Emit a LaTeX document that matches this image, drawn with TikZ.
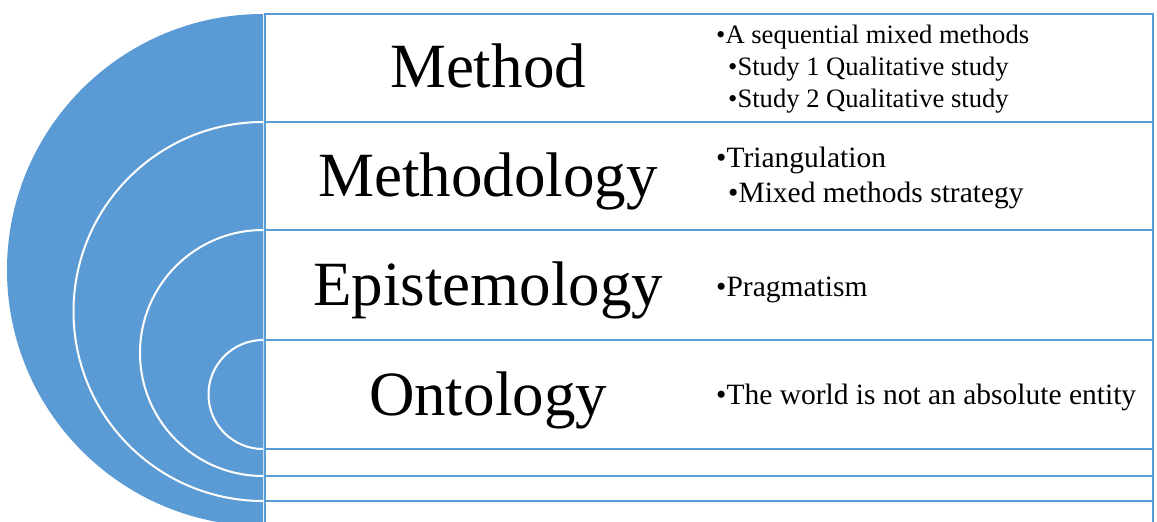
\documentclass[tikz,border=0pt]{standalone}
\usepackage{fontspec}
\setmainfont{Liberation Serif}
\usetikzlibrary{positioning}
\definecolor{targetblue}{HTML}{5B9BD5}

\begin{document}
\begin{tikzpicture}[
    x=1pt, y=-1pt,
    every node/.style={inner sep=0pt, text=black},
    band/.style={draw=targetblue, fill=white, line width=2.4pt},
    disc/.style={fill=targetblue},
    rim/.style={draw=white, line width=2pt},
    head/.style={font=\fontsize{63}{63}\selectfont, anchor=base},
    item/.style={font=\fontsize{29.5}{30}\selectfont, anchor=base west},
    subitem/.style={font=\fontsize{26.6}{30}\selectfont, anchor=base west}
]
    \useasboundingbox (0,0) rectangle (1157,522);
    \clip (0,0) rectangle (1157,522);

    % nested bands, outer to inner
    \draw[band] (265,14) rectangle (1153,526);
    \fill[disc] (263,14) arc[start angle=270, end angle=90, radius=256] -- cycle;

    \draw[band] (265,122) rectangle (1153,501);
    \fill[disc] (263,122) arc[start angle=270, end angle=90, radius=189.5] -- cycle;
    \draw[rim] (263,122) arc[start angle=270, end angle=90, radius=189.5];

    \draw[band] (265,230) rectangle (1153,476);
    \fill[disc] (263,230) arc[start angle=270, end angle=90, radius=123] -- cycle;
    \draw[rim] (263,230) arc[start angle=270, end angle=90, radius=123];

    \draw[band] (265,340) rectangle (1153,449);
    \fill[disc] (263,340) arc[start angle=270, end angle=90, radius=54.5] -- cycle;
    \draw[rim] (263,340) arc[start angle=270, end angle=90, radius=54.5];

    % level titles
    \node[head] (method) at (488,87) {Method};
    \node[head] (methodology) at (488,196) {Methodology};
    \node[head] (epistemology) at (488,305) {Epistemology};
    \node[head] (ontology) at (488,415) {Ontology};

    % level details
    \node[subitem] (seq) at (716,43) {\textbullet A sequential mixed methods};
    \node[subitem] (study1) at (728,75) {\textbullet Study 1 Qualitative study};
    \node[subitem] (study2) at (728,107) {\textbullet Study 2 Qualitative study};

    \node[item] (triang) at (716,167) {\textbullet Triangulation};
    \node[item] (strategy) at (728,202) {\textbullet Mixed methods strategy};

    \node[item] (pragma) at (716,296) {\textbullet Pragmatism};
    \node[item] (world) at (716,404) {\textbullet The world is not an absolute entity};
\end{tikzpicture}
\end{document}
